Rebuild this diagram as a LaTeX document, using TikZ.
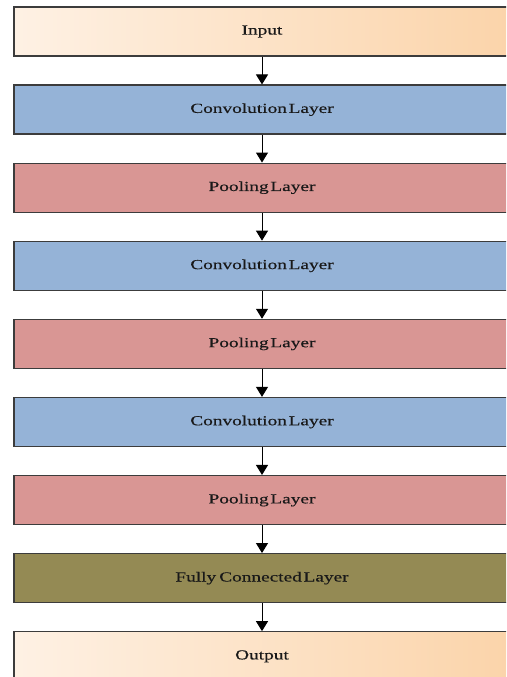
\documentclass[tikz,border=0pt]{standalone}
\usepackage{fontspec}
\usetikzlibrary{arrows.meta}
\newfontfamily\boxfont[FakeStretch=1.4,WordSpace=0.35,FakeBold=0.4]{Liberation Serif}
\definecolor{peachL}{RGB}{254,241,228}
\definecolor{peachR}{RGB}{251,212,170}
\definecolor{convc}{RGB}{149,179,215}
\definecolor{poolc}{RGB}{217,150,148}
\definecolor{fcc}{RGB}{148,138,84}
\definecolor{edgec}{RGB}{60,60,60}
\definecolor{txtc}{RGB}{25,25,25}
\tikzset{
  layerbox/.style={draw=edgec, line width=1.3pt, minimum width=496pt, minimum height=49pt,
    inner sep=0pt, text=txtc, font=\boxfont\fontsize{13.8}{15}\selectfont},
  peachbox/.style={layerbox, left color=peachL, right color=peachR},
  convbox/.style={layerbox, fill=convc},
  poolbox/.style={layerbox, fill=poolc},
  fcbox/.style={layerbox, fill=fcc},
  arr/.style={draw=black, line width=1pt, -{Triangle[width=12pt,length=10pt]}}
}
\begin{document}
\begin{tikzpicture}[x=1pt,y=-1pt]
\useasboundingbox (0,0) rectangle (506,677);
\clip (0,0) rectangle (506,677);
\fill[white] (0,0) rectangle (506,677);
\node[peachbox] (in) at (262,31.5) {Input};
\node[convbox] (c1) at (262,109.6) {Convolution Layer};
\node[poolbox] (p1) at (262,187.7) {Pooling Layer};
\node[convbox] (c2) at (262,265.8) {Convolution Layer};
\node[poolbox] (p2) at (262,343.9) {Pooling Layer};
\node[convbox] (c3) at (262,422.0) {Convolution Layer};
\node[poolbox] (p3) at (262,500.1) {Pooling Layer};
\node[fcbox] (fc) at (262,578.2) {Fully\hspace{0.22em}Connected Layer};
\node[peachbox] (out) at (262,656.3) {Output};
\draw[arr] (in.south) -- (c1.north);
\draw[arr] (c1.south) -- (p1.north);
\draw[arr] (p1.south) -- (c2.north);
\draw[arr] (c2.south) -- (p2.north);
\draw[arr] (p2.south) -- (c3.north);
\draw[arr] (c3.south) -- (p3.north);
\draw[arr] (p3.south) -- (fc.north);
\draw[arr] (fc.south) -- (out.north);
\end{tikzpicture}
\end{document}
